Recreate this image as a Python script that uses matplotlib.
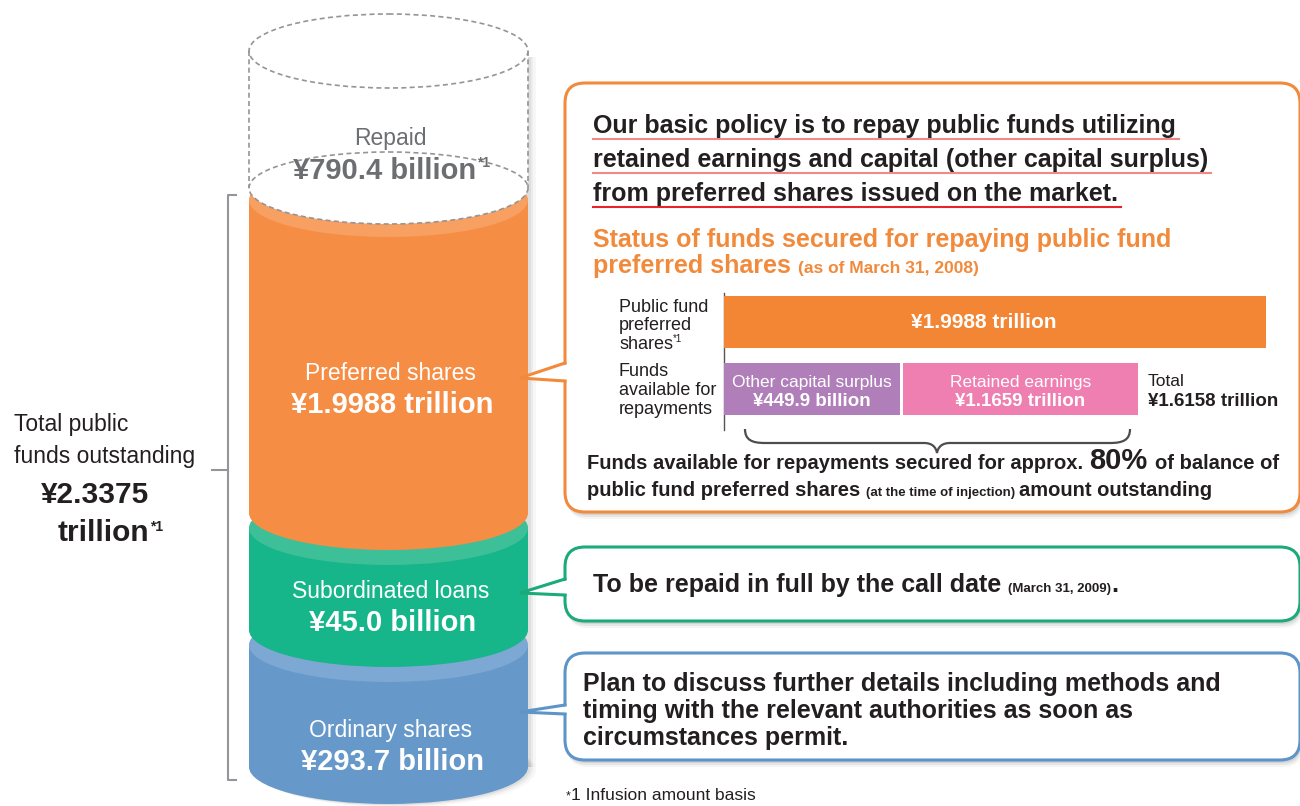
import matplotlib
matplotlib.use("Agg")
import matplotlib.pyplot as plt
from matplotlib.patches import Ellipse, Rectangle, FancyBboxPatch, Polygon, PathPatch
from matplotlib.path import Path

plt.rcParams['font.family'] = ['Liberation Sans', 'DejaVu Sans']

# ---- data (billion yen) ----
segments = ["Repaid", "Preferred shares", "Subordinated loans", "Ordinary shares"]
amounts = [790.4, 1998.8, 45.0, 293.7]
fund_parts = ["Other capital surplus", "Retained earnings"]
fund_amounts = [449.9, 1165.9]
pref_balance = 1998.8
row_labels = ["Public fund\npreferred\nshares", "Funds\navailable for\nrepayments"]
policy_lines = ["Our basic policy is to repay public funds utilizing",
                "retained earnings and capital (other capital surplus)",
                "from preferred shares issued on the market."]
status_title = ["Status of funds secured for repaying public fund", "preferred shares"]
status_date = "(as of March 31, 2008)"
sub_note = ["To be repaid in full by the call date", "(March 31, 2009)"]
ord_note = ["Plan to discuss further details including methods and",
            "timing with the relevant authorities as soon as",
            "circumstances permit."]
footnote = "1 Infusion amount basis"


def yen(v):
    if v >= 1000:
        return "¥%.4f trillion" % (v / 1000)
    return "¥%.1f billion" % v


outstanding = sum(amounts[1:])
secured = sum(fund_amounts)
pct = int(secured / pref_balance * 10) * 10

INK = '#231F20'
GREY = '#6D6E71'
ORANGE = '#F28A3C'
GREEN = '#1BAA7A'
BLUE = '#5E95C9'

fig = plt.figure(figsize=(13, 8.06), dpi=100)
ax = fig.add_axes([0, 0, 1, 1])
ax.set_xlim(0, 1300)
ax.set_ylim(806, 0)
ax.axis('off')
rend = fig.canvas.get_renderer()


def txt(x, y, s, size, weight='normal', color=INK, ha='left', va='center', **kw):
    return ax.text(x, y, s, fontsize=size, fontweight=weight, color=color,
                   ha=ha, va=va, zorder=10, **kw)


def run(x, y, parts):
    # parts: (text, size, weight, color, raise, spaces after)
    for s, size, weight, color, dy, sp in parts:
        t = ax.text(x, y - dy, s, fontsize=size, fontweight=weight, color=color,
                    ha='left', va='baseline', zorder=10)
        bb = t.get_window_extent(rend)
        x = ax.transData.inverted().transform((bb.x1, bb.y0))[0]
        x += sp * 0.278 * size * 100 / 72
    return x


# ---- cylinder ----
cx0, cx1 = 249, 528
cxm = (cx0 + cx1) / 2
rx, ry = (cx1 - cx0) / 2, 37
seg_top = [51, 200, 528, 645]
seg_bot = [188, 513, 630, 767]
body_col = ['white', '#F68D44', '#17B68A', '#6699C9']
face_col = ['white', '#F7A062', '#3DBF98', '#7CA8D3']

# soft shadow on the right
for off, a in [(8, 0.03), (5, 0.045), (2.5, 0.06)]:
    ax.add_patch(Rectangle((cx0 + off, seg_top[0] + 6), cx1 - cx0, seg_bot[3] - seg_top[0] - 6,
                           fc='black', ec='none', alpha=a, zorder=1))
    ax.add_patch(Ellipse((cxm + off, seg_bot[3] + off * 0.4), 2 * rx, 2 * ry,
                         fc='black', ec='none', alpha=a, zorder=1))

z = 2
for i in [3, 2, 1]:
    ax.add_patch(Ellipse((cxm, seg_bot[i]), 2 * rx, 2 * ry, fc=body_col[i], ec='none', zorder=z))
    ax.add_patch(Rectangle((cx0, seg_top[i]), cx1 - cx0, seg_bot[i] - seg_top[i],
                           fc=body_col[i], ec='none', zorder=z))
    ax.add_patch(Ellipse((cxm, seg_top[i]), 2 * rx, 2 * ry, fc=face_col[i], ec='none', zorder=z))
    z += 1

# repaid part, dashed outline
dash = dict(color='#939598', lw=1.2, linestyle=(0, (3, 2)))
ax.add_patch(Rectangle((cx0, seg_top[0]), cx1 - cx0, seg_bot[0] - seg_top[0],
                       fc='white', ec='none', zorder=z))
ax.add_patch(Ellipse((cxm, seg_bot[0]), 2 * rx, 2 * ry - 2, fc='white', zorder=z + 1, ec=dash['color'],
                     lw=dash['lw'], linestyle=dash['linestyle']))
ax.add_patch(Ellipse((cxm, seg_top[0]), 2 * rx, 2 * ry, fc='white', zorder=z + 1, ec=dash['color'],
                     lw=dash['lw'], linestyle=dash['linestyle']))
ax.plot([cx0, cx0], [seg_top[0], seg_bot[0]], zorder=z + 1, **dash)
ax.plot([cx1, cx1], [seg_top[0], seg_bot[0]], zorder=z + 1, **dash)

# cylinder labels
label_y = [139, 373, 591, 730]
for i, name in enumerate(segments):
    col = GREY if i == 0 else 'white'
    txt(cxm + 2, label_y[i], name, 16.5, color=col, ha='center')
    if i == 0:
        t = txt(cxm - 4, label_y[i] + 32, yen(amounts[i]), 21, 'bold', col, ha='center')
        bb = t.get_window_extent(rend)
        xe = ax.transData.inverted().transform((bb.x1, bb.y0))[0]
        txt(xe + 1, label_y[i] + 24, "*1", 10, 'bold', col)
    else:
        txt(cxm + 4, label_y[i] + 32, yen(amounts[i]), 21, 'bold', col, ha='center')

# ---- left bracket ----
ax.plot([236, 228, 228, 236], [195, 195, 780, 780], color='#939598', lw=1.5)
ax.plot([212, 228], [470, 470], color='#939598', lw=1.5)
txt(14, 425, "Total public", 16.5)
txt(14, 457, "funds outstanding", 16.5)
txt(41, 495, "¥%.4f" % (outstanding / 1000), 21.5, 'bold')
run(58, 541, [("trillion", 21.5, 'bold', INK, 0, 0), ("*1", 10, 'bold', INK, 10, 0)])


# ---- callout boxes ----
def callout(y0, y1, color, tail):
    x0, x1 = 565, 1300
    for k, a in [(7, 0.04), (5, 0.06), (3, 0.08)]:
        ax.add_patch(FancyBboxPatch((x0 + k * 0.4, y0 + k), x1 - x0, y1 - y0,
                                    boxstyle="round,pad=0,rounding_size=20",
                                    fc='black', ec='none', alpha=a, zorder=2))
    ax.add_patch(FancyBboxPatch((x0, y0), x1 - x0, y1 - y0, boxstyle="round,pad=0,rounding_size=20",
                                fc='white', ec=color, lw=2.2, zorder=3))
    (uy, ty, ly) = tail
    ax.add_patch(Polygon([(x0 + 3, uy + 1), (520, ty), (x0 + 3, ly - 1)], closed=True,
                         fc='white', ec='none', zorder=8))
    ax.plot([x0, 520, x0], [uy, ty, ly], color=color, lw=2.2, zorder=9,
            solid_joinstyle='miter')


callout(83, 512, ORANGE, (363, 378, 381))
callout(547, 621, GREEN, (579, 593, 595))
callout(653, 760, BLUE, (705, 712, 714))

# policy text with underlines
ul_col = ['#F08A8A', '#F08A8A', '#E8242B']
for k, line in enumerate(policy_lines):
    yb = 133 + 34 * k
    xe = run(593, yb, [(line, 18, 'bold', INK, 0, 0)])
    ax.plot([593, xe + 3], [yb + 6, yb + 6], color=ul_col[k], lw=1.5, zorder=9)

run(593, 247, [(status_title[0], 18, 'bold', ORANGE, 0, 0)])
run(593, 273, [(status_title[1], 18, 'bold', ORANGE, 0, 1), (status_date, 12.5, 'bold', ORANGE, 0, 0)])

# small bar chart
ax.plot([724, 724], [293, 430], color='#555555', lw=1.0, zorder=6)
ax.add_patch(Rectangle((724, 296), 1266 - 724, 52, fc='#F28634', ec='none', zorder=6))
txt(984, 323, yen(pref_balance), 15, 'bold', 'white', ha='center')
bar_x = [(724, 900), (903, 1138)]
bar_c = ['#B07FB9', '#EF7EB1']
for k in range(2):
    a, b = bar_x[k]
    ax.add_patch(Rectangle((a, 363), b - a, 52, fc=bar_c[k], ec='none', zorder=6))
    txt((a + b) / 2, 382, fund_parts[k], 12.5, 'normal', 'white', ha='center')
    txt((a + b) / 2, 401, yen(fund_amounts[k]), 13.5, 'bold', 'white', ha='center')
txt(1148, 382, "Total", 12.5)
txt(1148, 401, yen(secured), 13.5, 'bold')

for k, lab in enumerate(row_labels):
    for j, s in enumerate(lab.split("\n")):
        yy = (307 if k == 0 else 372) + 18.5 * j
        if k == 0 and j == 2:
            run(619, yy + 5, [(s, 13, 'normal', INK, 0, 0), ("*1", 7, 'normal', INK, 7, 0)])
        else:
            txt(619, yy, s, 13)

# brace
bp = [(745, 429), (745, 440), (752, 443), (765, 443), (924, 443),
      (932, 443), (936, 447), (937, 453),
      (938, 447), (942, 443), (950, 443), (1110, 443),
      (1123, 443), (1130, 440), (1130, 429)]
codes = [Path.MOVETO, Path.CURVE4, Path.CURVE4, Path.CURVE4, Path.LINETO,
         Path.CURVE4, Path.CURVE4, Path.CURVE4,
         Path.CURVE4, Path.CURVE4, Path.CURVE4, Path.LINETO,
         Path.CURVE4, Path.CURVE4, Path.CURVE4]
ax.add_patch(PathPatch(Path(bp, codes), fc='none', ec='#4D4D4F', lw=1.6, zorder=6))

run(587, 469, [("Funds available for repayments secured for approx.", 14.5, 'bold', INK, 0, 1),
               ("%d%%" % pct, 21, 'bold', INK, 0, 1),
               ("of balance of", 14.5, 'bold', INK, 0, 0)])
run(587, 496, [("public fund preferred shares", 14.5, 'bold', INK, 0, 1),
               ("(at the time of injection)", 9.5, 'bold', INK, 0, 1),
               ("amount outstanding", 14.5, 'bold', INK, 0, 0)])

run(593, 592, [(sub_note[0], 18, 'bold', INK, 0, 1),
               (sub_note[1], 9.5, 'bold', INK, 0, 0),
               (".", 18, 'bold', INK, 0, 0)])
for k, line in enumerate(ord_note):
    run(583, 691 + 27 * k, [(line, 18, 'bold', INK, 0, 0)])

run(566, 800, [("*", 9, 'normal', INK, 1, 0), (footnote, 12.5, 'normal', INK, 0, 0)])

fig.savefig("out.png", dpi=100)
